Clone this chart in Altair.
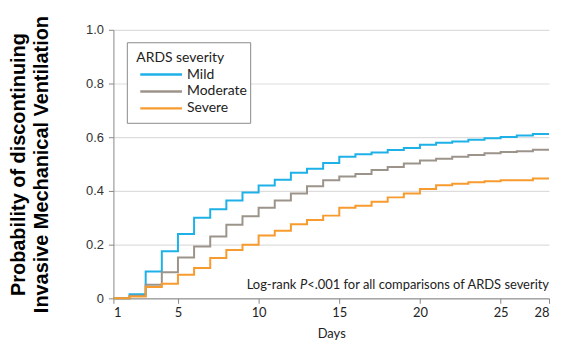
import altair as alt
import pandas as pd

days = list(range(1, 29))
mild = [0, 0.015, 0.10, 0.175, 0.24, 0.30, 0.332, 0.364, 0.394, 0.42, 0.442, 0.468, 0.483, 0.504,
        0.527, 0.537, 0.543, 0.552, 0.56, 0.572, 0.579, 0.584, 0.591, 0.596, 0.601, 0.606, 0.612, 0.612]
moderate = [0, 0.01, 0.051, 0.097, 0.152, 0.193, 0.23, 0.274, 0.306, 0.337, 0.364, 0.39, 0.417, 0.44,
            0.454, 0.463, 0.478, 0.489, 0.502, 0.513, 0.52, 0.527, 0.534, 0.54, 0.545, 0.548, 0.553, 0.553]
severe = [0, 0.007, 0.042, 0.054, 0.088, 0.113, 0.15, 0.18, 0.20, 0.234, 0.252, 0.276, 0.292, 0.308,
          0.337, 0.345, 0.36, 0.376, 0.39, 0.407, 0.421, 0.427, 0.432, 0.436, 0.44, 0.44, 0.446, 0.446]
groups = ["Mild", "Moderate", "Severe"]
colors = ["#1eb1e8", "#9c948b", "#f89b2e"]
x_ticks = [1, 5, 10, 15, 20, 25, 28]
y_ticks = [0, 0.2, 0.4, 0.6, 0.8, 1.0]
legend_title = "ARDS severity"
note_parts = ["Log-rank", "P", "<.001 for all comparisons of ARDS severity"]

rows = []
for g, vals in zip(groups, [mild, moderate, severe]):
    for d, v in zip(days, vals):
        rows.append({"Day": d, "Prob": v, "Severity": g})
df = pd.DataFrame(rows)

FONT = "Lato"
TXT = "#222222"

color_scale = alt.Scale(domain=groups, range=colors)
x_enc = alt.X("Day:Q", scale=alt.Scale(domain=[1, 28], nice=False, zero=False),
              axis=alt.Axis(values=x_ticks, title="Days", grid=False, domainColor="#888",
                            tickColor="#888", tickSize=5, labelFont=FONT, labelFontSize=13,
                            labelColor=TXT, titleFont=FONT, titleFontSize=13,
                            titleFontWeight="normal", titleColor=TXT, titlePadding=8,
                            labelPadding=3))
y_enc = alt.Y("Prob:Q", scale=alt.Scale(domain=[0, 1], nice=False),
              axis=alt.Axis(values=y_ticks, labelExpr="datum.value == 0 ? '0' : format(datum.value, '.1f')",
                            title=["Probability of discontinuing", "Invasive Mechanical Ventilation"],
                            titleFont="Liberation Sans", titleFontSize=20, titleFontWeight="bold",
                            titleColor="#000", titlePadding=34, titleLineHeight=23,
                            labelFont="Liberation Sans", labelFontSize=13, labelColor="#333",
                            domainColor="#888", tickColor="#888", tickSize=5,
                            gridColor="#dddddd", gridWidth=1.2, labelPadding=5))

lines = alt.Chart(df).mark_line(interpolate="step-after", strokeWidth=2).encode(
    x=x_enc, y=y_enc,
    color=alt.Color("Severity:N", scale=color_scale, legend=None)
)

note_df = pd.DataFrame({"Day": [28, 28, 28], "Prob": [0.05, 0.05, 0.05], "t": note_parts})
note_a = alt.Chart(note_df.iloc[[0]]).mark_text(align="right", baseline="middle", font=FONT,
                                                fontSize=13, color=TXT, dx=-254).encode(
    x="Day:Q", y="Prob:Q", text="t:N")
note_b = alt.Chart(note_df.iloc[[1]]).mark_text(align="right", baseline="middle", font=FONT,
                                                fontSize=13, color=TXT, fontStyle="italic", dx=-243).encode(
    x="Day:Q", y="Prob:Q", text="t:N")
note_c = alt.Chart(note_df.iloc[[2]]).mark_text(align="right", baseline="middle", font=FONT,
                                                fontSize=13, color=TXT, dx=0).encode(
    x="Day:Q", y="Prob:Q", text="t:N")

main_layer = alt.layer(lines, note_a, note_b, note_c)

# Manual legend (box, title, line swatches, labels)
leg_df = pd.DataFrame({"Severity": groups, "idx": list(range(len(groups)))})
leg_y = alt.Y("idx:Q", scale=alt.Scale(domain=[0, 2], range=[45, 79], nice=False, zero=False),
              axis=None)
leg_box = alt.Chart(pd.DataFrame({"t": [legend_title]})).mark_rect(
    fill="white", stroke="#8a8a8a", strokeWidth=1).encode(
    x=alt.value(14), x2=alt.value(138), y=alt.value(13), y2=alt.value(94))
leg_title = alt.Chart(pd.DataFrame({"t": [legend_title]})).mark_text(
    align="left", baseline="middle", font=FONT, fontSize=14, color=TXT).encode(
    x=alt.value(23), y=alt.value(28), text="t:N")
leg_lines = alt.Chart(leg_df).mark_rule(strokeWidth=2.5).encode(
    x=alt.value(27), x2=alt.value(69), y=leg_y,
    color=alt.Color("Severity:N", scale=color_scale, legend=None))
leg_labels = alt.Chart(leg_df).mark_text(
    align="left", baseline="middle", font=FONT, fontSize=14, color=TXT).encode(
    x=alt.value(74), y=leg_y, text="Severity:N")

legend_layer = alt.layer(leg_box, leg_title, leg_lines, leg_labels)

chart = alt.layer(main_layer, legend_layer).resolve_scale(
    y="independent"
).properties(
    width=438, height=270,
    autosize=alt.AutoSizeParams(type="none"),
    padding={"left": 106, "top": 21, "right": 4, "bottom": 48},
).configure_view(stroke=None)

chart.save("out.html", embed_options={"renderer": "svg", "actions": False})
